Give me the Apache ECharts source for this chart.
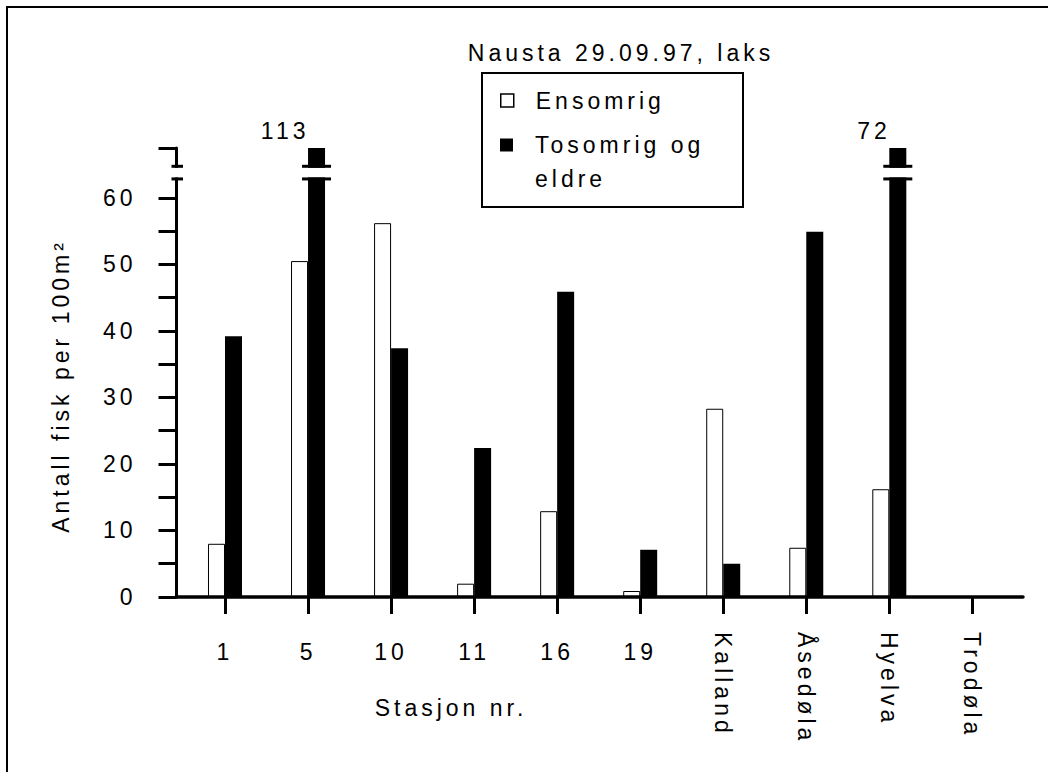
<!DOCTYPE html>
<html><head><meta charset="utf-8">
<script src="https://cdn.jsdelivr.net/npm/echarts@6/dist/echarts.min.js"></script>
<style>
html,body{margin:0;padding:0;background:#fff;}
#main{width:1048px;height:772px;}
#main text{letter-spacing:4px;}
</style></head><body><div id="main"></div>
<script>
// ---- data ----
const categories = ['1', '5', '10', '11', '16', '19', 'Kalland', 'Åsedøla', 'Hyelva', 'Trodøla'];
const ensomrig = [8.0, 50.5, 56.2, 2.0, 12.9, 0.9, 28.3, 7.4, 16.2, 0];
const tosomrig = [39.2, 113, 37.4, 22.4, 45.9, 7.1, 5.0, 54.9, 72, 0];
const yTickValues = [0, 5, 10, 15, 20, 25, 30, 35, 40, 45, 50, 55, 60, 67.5];
const yLabelValues = [0, 10, 20, 30, 40, 50, 60];
const numericLabelIdx = [0, 1, 2, 3, 4, 5];
const rotatedLabelIdx = [6, 7, 8, 9];

// ---- layout constants ----
const Y_MAX = 67.5;
const X_MIN = -0.584, X_MAX = 9.61;
const BREAK_HI = 64.75, BREAK_LO = 62.85;
const BAR_W = 17;
const FONT = '"Liberation Sans", Arial, Helvetica, sans-serif';
const FS = 23;

const chart = echarts.init(document.getElementById('main'), null, {renderer: 'svg'});

const whiteData = categories.map((c, i) => [i, ensomrig[i]]);
const blackData = categories.map((c, i) => [i, tosomrig[i]]);
const breakData = [[X_MIN, 0]].concat(
  categories.map((c, i) => i).filter(i => tosomrig[i] > Y_MAX).map(i => [i, 1])
);

function renderBreak(params, api) {
  const xv = api.value(0), kind = api.value(1);
  let left, right, dl, dr;
  if (kind === 0) {
    const xc = api.coord([xv, 0])[0];
    left = xc - 2; right = xc + 2; dl = xc - 5; dr = xc + 6.5;
  } else {
    const c = api.coord([xv, 0])[0];
    left = c; right = c + BAR_W; dl = left - 6; dr = right + 6;
  }
  const yHi = api.coord([0, BREAK_HI])[1];
  const yLo = api.coord([0, BREAK_LO])[1];
  return {
    type: 'group',
    children: [
      {type: 'rect', shape: {x: left - 2, y: yHi + 1.5, width: right - left + 4, height: yLo - yHi - 3}, style: {fill: '#fff'}},
      {type: 'line', shape: {x1: dl, y1: yHi, x2: dr, y2: yHi}, style: {stroke: '#000', lineWidth: 3}},
      {type: 'line', shape: {x1: dl, y1: yLo, x2: dr, y2: yLo}, style: {stroke: '#000', lineWidth: 3}}
    ]
  };
}

const baseX = {
  type: 'value', min: X_MIN, max: X_MAX, position: 'bottom',
  splitLine: {show: false}
};

const option = {
  backgroundColor: '#fff',
  animation: false,
  textStyle: {fontFamily: FONT},
  grid: {left: 176.5, right: 25, top: 148, bottom: 175, containLabel: false},
  xAxis: [
    Object.assign({}, baseX, {
      z: 10,
      axisLine: {show: true, onZero: false, lineStyle: {color: '#000', width: 3.5}},
      axisTick: {show: true, length: 17, lineStyle: {color: '#000', width: 3}, customValues: categories.map((c, i) => i)},
      axisLabel: {customValues: numericLabelIdx, formatter: v => categories[Math.round(v)],
        fontSize: FS, fontFamily: FONT, color: '#000', margin: 43, lineHeight: 23}
    }),
    Object.assign({}, baseX, {
      axisLine: {show: false, onZero: false}, axisTick: {show: false},
      axisLabel: {customValues: rotatedLabelIdx, formatter: v => categories[Math.round(v)],
        rotate: -90, fontSize: FS, fontFamily: FONT, color: '#000', margin: 35}
    })
  ],
  yAxis: {
    type: 'value', min: 0, max: Y_MAX, z: 10,
    splitLine: {show: false},
    axisLine: {show: true, onZero: false, lineStyle: {color: '#000', width: 3}},
    axisTick: {show: true, length: 18, lineStyle: {color: '#000', width: 3}, customValues: yTickValues},
    axisLabel: {customValues: yLabelValues, fontSize: FS, fontFamily: FONT, color: '#000', margin: 40}
  },
  legend: [
    {
      data: [{name: 'Ensomrig', icon: 'rect', itemStyle: {color: '#fff', borderColor: '#000', borderWidth: 1.5}}],
      left: 500, top: 83.5, padding: 0, itemWidth: 13, itemHeight: 13, selectedMode: false,
      textStyle: {fontSize: FS, fontFamily: FONT, color: '#000', lineHeight: 34, padding: [0, 0, 0, 17]}
    },
    {
      data: [{name: 'Tosomrig og eldre', icon: 'rect', itemStyle: {color: '#000'}}],
      formatter: () => '\nTosomrig og\neldre',
      left: 500, top: 94, padding: 0, itemWidth: 13, itemHeight: 13, selectedMode: false,
      textStyle: {fontSize: FS, fontFamily: FONT, color: '#000', lineHeight: 34, padding: [0, 0, 0, 17]}
    }
  ],
  graphic: [
    {type: 'polyline', shape: {points: [[7, 772], [7, 7], [1048, 7]]}, style: {stroke: '#000', lineWidth: 2, fill: null}},
    {type: 'rect', shape: {x: 482, y: 73, width: 261, height: 134}, style: {stroke: '#000', lineWidth: 2, fill: null}},
    {type: 'text', x: 621, y: 53, style: {text: 'Nausta 29.09.97, laks', fontSize: FS, fontFamily: FONT, fill: '#000', align: 'center', verticalAlign: 'middle'}},
    {type: 'text', x: 451, y: 708, style: {text: 'Stasjon nr.', fontSize: FS, fontFamily: FONT, fill: '#000', align: 'center', verticalAlign: 'middle'}},
    {type: 'text', x: 61, y: 386, rotation: Math.PI / 2, style: {text: 'Antall fisk per 100m²', fontSize: FS, fontFamily: FONT, fill: '#000', align: 'center', verticalAlign: 'middle'}}
  ],
  series: [
    {
      name: 'Ensomrig', type: 'bar', xAxisIndex: 0, data: whiteData,
      barWidth: BAR_W, barGap: '0%',
      itemStyle: {color: '#fff', borderColor: '#000', borderWidth: 1}
    },
    {
      name: 'Tosomrig og eldre', type: 'bar', xAxisIndex: 0, data: blackData,
      barWidth: BAR_W, barGap: '0%',
      itemStyle: {color: '#000'},
      label: {show: true, position: 'top', align: 'right', offset: [-7, -2], distance: 4,
        fontSize: FS, fontFamily: FONT, color: '#000',
        formatter: p => (p.value[1] > Y_MAX ? String(p.value[1]) : '')}
    },
    {
      name: 'breaks', type: 'custom', xAxisIndex: 0, data: breakData, z: 20,
      renderItem: renderBreak, silent: true, clip: false
    }
  ]
};
chart.setOption(option);
</script></body></html>
